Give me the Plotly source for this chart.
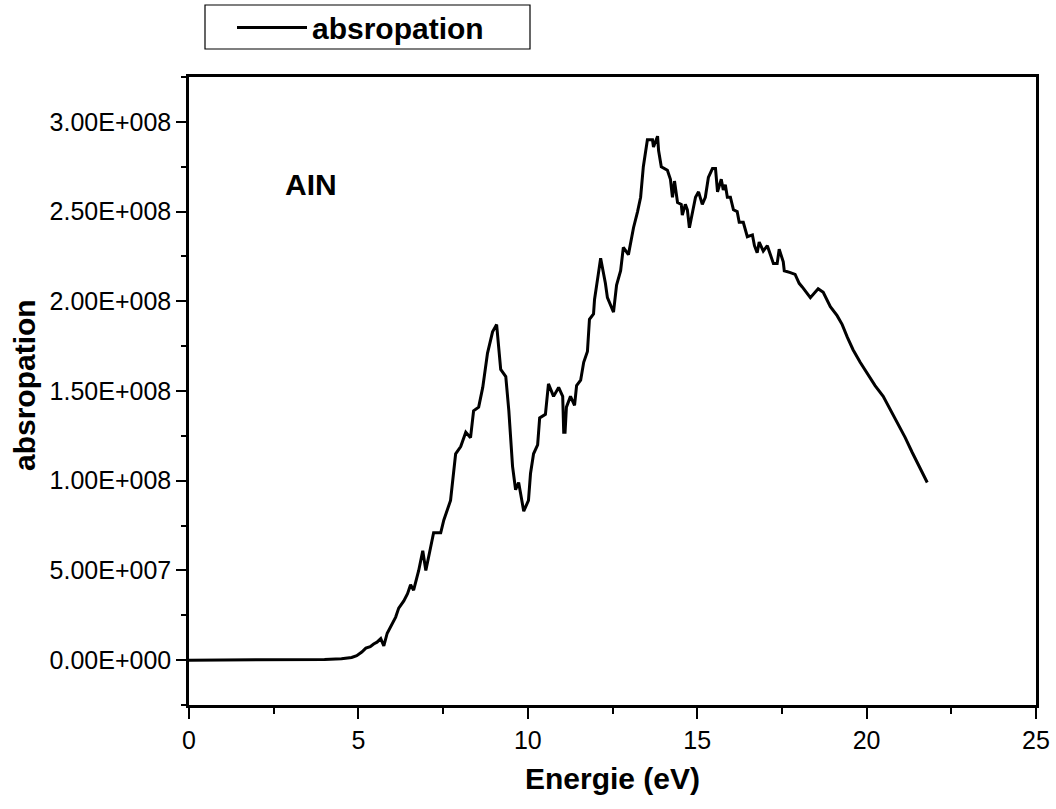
import plotly.graph_objects as go

# ---- data (energy in eV, absorption values) ----
energy = [0.0, 1.0, 2.0, 3.0, 4.0, 4.5, 4.8, 4.95, 5.1, 5.22, 5.35, 5.45, 5.55, 5.66, 5.75, 5.85,
          6.01, 6.1, 6.19, 6.34, 6.45, 6.54, 6.63, 6.78, 6.90, 6.99, 7.1, 7.22, 7.43, 7.52, 7.72,
          7.80, 7.87, 8.02, 8.17, 8.31, 8.40, 8.55, 8.67, 8.81, 8.96, 9.08, 9.20, 9.35, 9.44, 9.55,
          9.64, 9.73, 9.88, 10.02, 10.08, 10.17, 10.29, 10.35, 10.52, 10.61, 10.76, 10.91, 11.03,
          11.06, 11.10, 11.14, 11.26, 11.38, 11.44, 11.56, 11.65, 11.76, 11.82, 11.94, 11.97, 12.08,
          12.15, 12.29, 12.35, 12.53, 12.62, 12.74, 12.82, 12.97, 13.12, 13.24, 13.33, 13.41, 13.53,
          13.68, 13.71, 13.83, 13.86, 13.94, 14.12, 14.21, 14.27, 14.33, 14.42, 14.53, 14.56, 14.65,
          14.71, 14.77, 14.86, 14.95, 15.04, 15.15, 15.24, 15.33, 15.45, 15.54, 15.60, 15.71, 15.77,
          15.83, 15.89, 15.98, 16.07, 16.18, 16.24, 16.36, 16.48, 16.63, 16.69, 16.77, 16.83, 16.95,
          17.07, 17.13, 17.25, 17.36, 17.42, 17.54, 17.57, 17.75, 17.89, 18.01, 18.10, 18.34, 18.57,
          18.72, 18.93, 19.13, 19.28, 19.43, 19.60, 19.81, 20.02, 20.25, 20.49, 20.75, 20.93, 21.14,
          21.34, 21.52, 21.70, 21.79]

absorption_e8 = [0.0, 0.0, 0.001, 0.002, 0.004, 0.008, 0.015, 0.025, 0.045, 0.067, 0.075, 0.09, 0.10, 0.12, 0.08, 0.15,
                 0.21, 0.24, 0.29, 0.33, 0.37, 0.42, 0.39, 0.50, 0.61, 0.50, 0.60, 0.71, 0.71, 0.78, 0.89,
                 1.02, 1.15, 1.19, 1.27, 1.24, 1.39, 1.41, 1.52, 1.71, 1.83, 1.87, 1.62, 1.58, 1.39, 1.08,
                 0.95, 0.99, 0.83, 0.89, 1.04, 1.15, 1.20, 1.35, 1.37, 1.54, 1.47, 1.52, 1.47,
                 1.27, 1.27, 1.41, 1.47, 1.42, 1.53, 1.56, 1.66, 1.72, 1.90, 1.93, 2.01, 2.15,
                 2.24, 2.10, 2.02, 1.94, 2.09, 2.17, 2.30, 2.26, 2.41, 2.50, 2.58, 2.75, 2.90,
                 2.90, 2.86, 2.92, 2.84, 2.75, 2.73, 2.68, 2.58, 2.67, 2.55, 2.54, 2.48, 2.54,
                 2.51, 2.41, 2.49, 2.58, 2.61, 2.54, 2.58, 2.69, 2.74, 2.74, 2.61, 2.68, 2.62,
                 2.65, 2.58, 2.58, 2.51, 2.50, 2.44, 2.44, 2.36, 2.37, 2.31, 2.27, 2.33, 2.28,
                 2.31, 2.28, 2.21, 2.21, 2.29, 2.22, 2.17, 2.16, 2.15, 2.10, 2.08, 2.02, 2.07,
                 2.05, 1.97, 1.92, 1.87, 1.80, 1.73, 1.66, 1.60, 1.53, 1.47, 1.38, 1.31, 1.24,
                 1.16, 1.09, 1.02, 0.99]

absorption = [v * 1e8 for v in absorption_e8]

y_tick_vals = [0, 5e7, 1e8, 1.5e8, 2e8, 2.5e8, 3e8]
y_tick_text = ["0.00E+000", "5.00E+007", "1.00E+008", "1.50E+008", "2.00E+008", "2.50E+008", "3.00E+008"]
x_tick_vals = [0, 5, 10, 15, 20, 25]

series_name = "absropation"
x_title = "Energie (eV)"
y_title = "absropation"
label_text = "AIN"
FONT = "Liberation Sans, Arial, sans-serif"

L, R, T, B = 189, 20, 77, 104
PW, PH = 1056 - L - R, 809 - T - B

fig = go.Figure()
fig.add_trace(go.Scatter(x=energy, y=absorption, mode="lines", name=series_name,
                         line=dict(color="black", width=3)))

fig.update_layout(
    width=1056, height=809,
    paper_bgcolor="white", plot_bgcolor="white",
    margin=dict(l=L, r=R, t=T, b=B, autoexpand=False),
    font=dict(family=FONT, color="black", size=25),
    showlegend=True,
    legend=dict(xref="container", yref="container", x=232 / 1056, y=0.998,
                xanchor="left", yanchor="top",
                font=dict(family=FONT, size=30, color="black", weight="bold"),
                bgcolor="rgba(0,0,0,0)", borderwidth=0, itemwidth=70),
)

fig.update_xaxes(
    range=[0, 25], tickvals=x_tick_vals, ticks="outside", ticklen=11, tickwidth=2,
    tickcolor="black", showline=True, linecolor="black", linewidth=2.5, mirror=True,
    showgrid=False, zeroline=False, tickfont=dict(size=25),
    minor=dict(dtick=2.5, tick0=0, ticks="outside", ticklen=6, tickwidth=2, tickcolor="black"),
    title=dict(text="<b>" + x_title + "</b>", font=dict(size=30), standoff=16),
)
fig.update_yaxes(
    range=[-2.5e7, 3.25e8], tickvals=y_tick_vals, ticktext=y_tick_text, ticks="outside",
    ticklen=10, tickwidth=2, tickcolor="black", showline=True, linecolor="black",
    linewidth=2.5, mirror=True, showgrid=False, zeroline=False, tickfont=dict(size=25),
    minor=dict(dtick=2.5e7, tick0=0, ticks="outside", ticklen=5, tickwidth=2, tickcolor="black"),
)

# y-axis title
fig.add_annotation(xref="paper", yref="paper", x=(24 - L) / PW, y=(705 - 385) / PH,
                   xanchor="center", yanchor="middle",
                   text="<b>" + y_title + "</b>", textangle=-90, showarrow=False,
                   font=dict(size=30, family=FONT, color="black"))

# legend frame
fig.add_shape(type="rect", xref="paper", yref="paper",
              x0=(205 - L) / PW, x1=(530 - L) / PW,
              y0=(705 - 49) / PH, y1=(705 - 5) / PH,
              line=dict(color="black", width=1.2), fillcolor="rgba(0,0,0,0)")

fig.add_annotation(x=3.6, y=2.65e8, xref="x", yref="y", text="<b>" + label_text + "</b>",
                   showarrow=False, font=dict(size=30, family=FONT, color="black"))

fig.write_html("out.html")
